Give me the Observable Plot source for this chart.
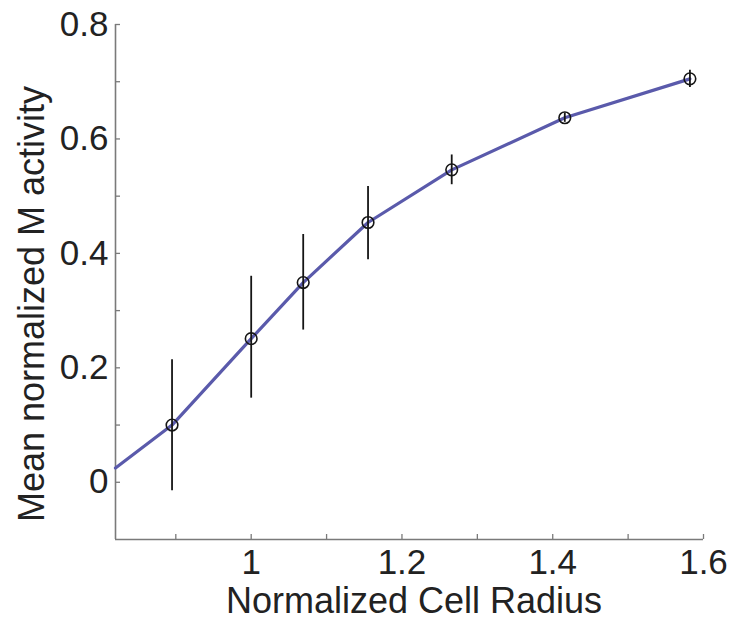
<!DOCTYPE html>
<html>
<head>
<meta charset="utf-8">
<script src="https://cdn.jsdelivr.net/npm/d3@7"></script>
<script src="https://cdn.jsdelivr.net/npm/@observablehq/plot@0.6"></script>
<style>
  html, body { margin: 0; padding: 0; background: #fff; }
  svg { font-family: "Liberation Sans", Arial, sans-serif; }
</style>
</head>
<body>
<div id="chart"></div>
<script>
// Data
const radius   = [0.895, 1.0, 1.069, 1.155, 1.266, 1.416, 1.582];
const activity = [0.100, 0.251, 0.349, 0.454, 0.546, 0.637, 0.705];
const errLow   = [-0.015, 0.147, 0.266, 0.389, 0.520, 0.629, 0.690];
const errHigh  = [0.214, 0.360, 0.433, 0.517, 0.572, 0.645, 0.720];
// fitted curve: starts at the left edge, then passes through the means
const curveX = [0.82, 0.895, 1.0, 1.069, 1.155, 1.266, 1.416, 1.582];
const curveY = [0.025, 0.100, 0.251, 0.349, 0.454, 0.546, 0.637, 0.705];

const xTicks = [0.9, 1.0, 1.1, 1.2, 1.3, 1.4, 1.5, 1.6];
const xLabels = [1, 1.2, 1.4, 1.6];
const yTicks = [0, 0.1, 0.2, 0.3, 0.4, 0.5, 0.6, 0.7, 0.8];
const yLabels = [0, 0.2, 0.4, 0.6, 0.8];
const xDomain = [0.82, 1.6];
const yDomain = [-0.1, 0.8];
const xTitle = "Normalized Cell Radius";
const yTitle = "Mean normalized M activity";

const points = radius.map((x, i) => ({x, y: activity[i], lo: errLow[i], hi: errHigh[i]}));
const curve = curveX.map((x, i) => ({x, y: curveY[i]}));

const axisColor = "#7a7a7a";
const textColor = "#222";
const fs = 35;
const titleFs = 36;

const chart = Plot.plot({
  width: 736,
  height: 624,
  marginLeft: 115,
  marginRight: 33,
  marginTop: 24,
  marginBottom: 85,
  x: {domain: xDomain},
  y: {domain: yDomain},
  style: {fontFamily: "'Liberation Sans', Arial, sans-serif", color: textColor, background: "white"},
  marks: [
    Plot.ruleX([xDomain[0]], {stroke: axisColor, strokeWidth: 1.6}),
    Plot.ruleY([yDomain[0]], {stroke: axisColor, strokeWidth: 1.6}),
    Plot.axisX({ticks: xTicks, tickSize: -5, text: null, label: null, stroke: axisColor, strokeWidth: 1.3}),
    Plot.axisY({ticks: yTicks, tickSize: -5, text: null, label: null, stroke: axisColor, strokeWidth: 1.3}),
    Plot.axisX({ticks: xLabels, tickSize: 0, tickPadding: 10, label: null, fontSize: fs, fill: textColor, tickFormat: d => String(d)}),
    Plot.axisY({ticks: yLabels, tickSize: 0, tickPadding: 7, label: null, fontSize: fs, fill: textColor, tickFormat: d => String(d)}),
    Plot.line(curve, {x: "x", y: "y", curve: "linear", stroke: "#5a5aab", strokeWidth: 3.2, strokeLinejoin: "round"}),
    Plot.ruleX(points, {x: "x", y1: "lo", y2: "hi", stroke: "#151515", strokeWidth: 1.8}),
    Plot.dot(points, {x: "x", y: "y", r: 5.8, stroke: "#151515", strokeWidth: 1.6, fill: "none"})
  ]
});

const svg = d3.select(chart);
svg.append("text")
  .attr("x", 414).attr("y", 613)
  .attr("text-anchor", "middle")
  .attr("font-size", titleFs).attr("fill", textColor)
  .text(xTitle);
svg.append("text")
  .attr("transform", "translate(44,304) rotate(-90)")
  .attr("text-anchor", "middle")
  .attr("font-size", titleFs).attr("fill", textColor)
  .text(yTitle);

document.getElementById("chart").appendChild(chart);
</script>
</body>
</html>
